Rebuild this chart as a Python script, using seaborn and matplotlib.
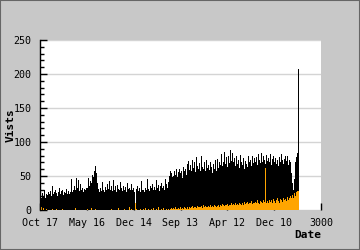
import matplotlib
matplotlib.use("Agg")
import matplotlib.pyplot as plt
import seaborn as sns
from matplotlib.ticker import MultipleLocator
from matplotlib.patches import Rectangle

# total visits per 10-day bin (day index 0 .. 2760)
visits = [
    20, 22, 17, 25, 21, 30, 18, 24, 22, 26,
    23, 28, 20, 36, 24, 27, 22, 30, 25, 21,
    26, 32, 24, 28, 30, 22, 27, 25, 31, 23,
    28, 24, 33, 27, 45, 26, 30, 35, 29, 47,
    32, 44, 28, 38, 30, 33, 27, 34, 31, 29,
    33, 32, 47, 36, 43, 40, 52, 48, 58, 65,
    55, 40, 31, 29, 27, 33, 28, 41, 30, 26,
    34, 29, 38, 31, 43, 30, 36, 28, 44, 33,
    30, 35, 27, 37, 31, 29, 41, 32, 28, 36,
    30, 34, 26, 39, 31, 28, 33, 30, 38, 29,
    32, 27, 10, 31, 36, 28, 33, 26, 42, 30,
    29, 35, 27, 33, 30, 45, 31, 28, 36, 32,
    38, 30, 34, 29, 44, 33, 31, 37, 28, 35,
    40, 32, 36, 30, 45, 38, 33, 41, 50, 58,
    55, 48, 62, 50, 57, 52, 60, 49, 56, 61,
    54, 58, 47, 63, 57, 60, 52, 68, 55, 72,
    59, 66, 57, 74, 62, 70, 56, 78, 64, 60,
    69, 58, 80, 63, 67, 61, 70, 57, 73, 62,
    66, 59, 71, 63, 55, 68, 60, 74, 58, 65,
    75, 62, 70, 66, 82, 64, 71, 85, 67, 78,
    63, 80, 69, 88, 72, 66, 84, 70, 76, 64,
    79, 68, 74, 62, 81, 70, 66, 77, 60, 72,
    68, 75, 63, 79, 70, 73, 65, 80, 69, 76,
    71, 78, 66, 82, 73, 69, 84, 75, 70, 79,
    74, 68, 81, 72, 77, 70, 83, 66, 75, 79,
    71, 76, 68, 80, 73, 65, 78, 70, 82, 74,
    68, 75, 80, 72, 79, 66, 74, 70, 62, 55,
    40, 30, 45, 70, 78, 84, 207,
]

# highlighted subset per 10-day bin
subset = [
    3, 0, 4, 0, 3, 0, 0, 1, 0, 0,
    0, 0, 0, 2, 0, 0, 0, 0, 1, 0,
    0, 0, 0, 0, 2, 0, 0, 0, 0, 0,
    0, 0, 1, 0, 0, 0, 0, 0, 3, 0,
    0, 0, 0, 0, 0, 0, 0, 0, 0, 0,
    0, 2, 0, 0, 0, 3, 0, 0, 0, 2,
    0, 0, 0, 0, 0, 0, 0, 0, 0, 0,
    0, 0, 0, 0, 0, 0, 2, 0, 0, 0,
    0, 0, 0, 0, 3, 0, 0, 0, 0, 0,
    1, 0, 0, 0, 0, 0, 4, 0, 1, 0,
    0, 0, 10, 2, 0, 0, 0, 1, 0, 0,
    2, 0, 0, 3, 0, 0, 2, 0, 0, 1,
    0, 3, 0, 0, 2, 0, 0, 4, 0, 0,
    2, 0, 3, 0, 0, 2, 0, 1, 0, 2,
    3, 2, 1, 3, 2, 4, 1, 2, 3, 2,
    4, 2, 3, 1, 5, 3, 2, 4, 3, 2,
    5, 3, 4, 6, 3, 5, 4, 3, 6, 4,
    5, 4, 6, 3, 5, 7, 4, 6, 5, 4,
    6, 5, 7, 4, 6, 5, 8, 6, 5, 7,
    6, 8, 5, 7, 6, 9, 7, 6, 8, 7,
    9, 6, 8, 7, 10, 8, 7, 9, 8, 10,
    7, 9, 8, 11, 9, 7, 10, 8, 12, 9,
    10, 8, 12, 9, 11, 10, 13, 9, 11, 10,
    12, 10, 14, 11, 9, 13, 12, 10, 11, 14,
    12, 62, 10, 13, 11, 15, 12, 14, 10, 16,
    13, 11, 15, 12, 17, 13, 10, 16, 14, 12,
    18, 14, 16, 13, 19, 15, 17, 20, 14, 18,
    22, 18, 25, 20, 26, 28, 28,
]

days = list(range(0, 10 * len(visits), 10))

tick_pos = [0, 500, 1000, 1500, 2000, 2500, 3000]
tick_labels = ["Oct 17", "May 16", "Dec 14", "Sep 13", "Apr 12", "Dec 10", "3000"]

sns.set_style("white")
plt.rcParams["font.family"] = ["DejaVu Sans Mono"]

bg = "#c8c8c8"
fig = plt.figure(figsize=(3.6, 2.5), dpi=100, facecolor=bg)
ax = fig.add_axes([40 / 360, 40 / 250, 281 / 360, 170 / 250])
ax.set_facecolor("white")

sns.barplot(x=days, y=visits, native_scale=True, width=1, color="black",
            saturation=1, errorbar=None, linewidth=0, ax=ax)
sns.barplot(x=days, y=subset, native_scale=True, width=1, color="#ffa500",
            saturation=1, errorbar=None, linewidth=0, ax=ax)

ax.set_xlim(0, 3000)
ax.set_ylim(0, 250)
ax.set_xticks(tick_pos)
ax.set_xticklabels(tick_labels)
ax.set_yticks([0, 50, 100, 150, 200, 250])
ax.yaxis.set_minor_locator(MultipleLocator(10))

ax.yaxis.grid(True, color="#d4d4d4", lw=1)
ax.xaxis.grid(False)
ax.set_axisbelow(True)

for s in ["top", "right", "bottom"]:
    ax.spines[s].set_visible(False)
ax.spines["left"].set_color("black")
ax.spines["left"].set_linewidth(1)

ax.tick_params(axis="both", which="major", direction="in", length=5, width=1,
               color="black", labelsize=7.2, labelcolor="black",
               left=True, bottom=True)
ax.tick_params(axis="y", which="minor", direction="in", length=3, width=1,
               color="black", left=True)
ax.tick_params(axis="y", which="major", pad=6)
ax.tick_params(axis="x", which="major", pad=6)
for t in ax.get_xticklines() + ax.get_yticklines():
    t.set_zorder(5)
ax.spines["left"].set_zorder(6)

ax.set_ylabel("Vists", fontweight="bold", fontsize=8, color="black")
ax.yaxis.set_label_coords(-0.085, 0.5)
ax.set_xlabel("Date", fontweight="bold", fontsize=8, color="black", loc="right")
ax.xaxis.set_label_coords(1.0, -0.12)

fig.patches.append(Rectangle((0, 0), 1, 1, transform=fig.transFigure, fill=False,
                             edgecolor="#666666", lw=1.5))

fig.savefig("out.png", dpi=100, facecolor=bg)
